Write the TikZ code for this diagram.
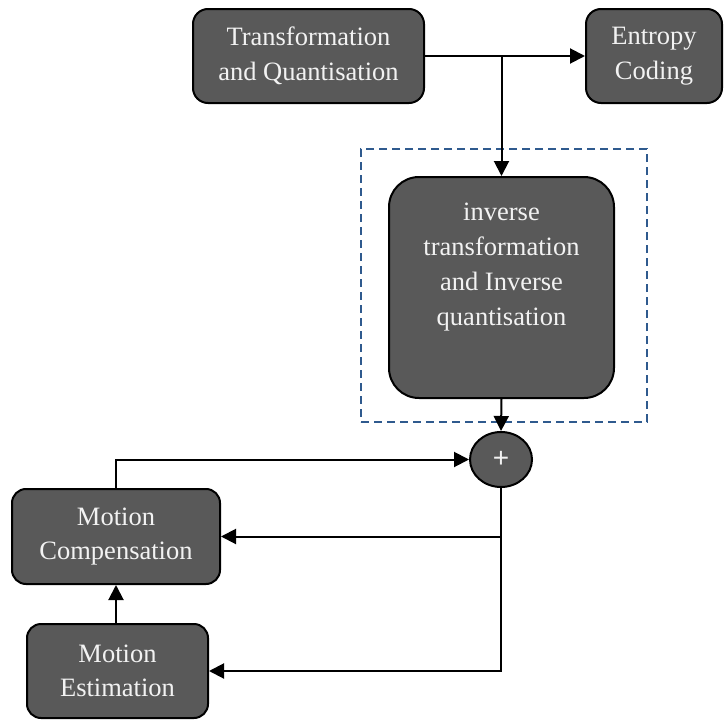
\documentclass[tikz,border=0pt]{standalone}
\usepackage{fontspec}
\setmainfont{Liberation Serif}
\newfontfamily\plusfont{Liberation Sans}
\usetikzlibrary{arrows.meta,shapes.geometric}

\definecolor{boxfill}{HTML}{595959}
\definecolor{boxtext}{HTML}{F2F2F2}
\definecolor{groupblue}{HTML}{2F5A8E}

\tikzset{
  stage/.style={draw=black, line width=2pt, fill=boxfill, text=boxtext,
    rounded corners=15pt, align=center, inner sep=0pt,
    font=\fontsize{26.5}{34.5}\selectfont},
  sumnode/.style={ellipse, draw=black, line width=2pt, fill=boxfill,
    text=boxtext, inner sep=0pt, minimum width=62pt, minimum height=55pt,
    font=\plusfont\fontsize{28}{28}\selectfont},
  groupbox/.style={draw=groupblue, line width=1.8pt,
    dash pattern=on 8pt off 5pt, inner sep=0pt},
  flow/.style={line width=2pt, -{Triangle[length=15pt,width=15pt]}}
}

\begin{document}
\begin{tikzpicture}[x=1pt, y=-1pt]
  \useasboundingbox (0,0) rectangle (724,720);

  % dashed frame round the inverse stage
  \node[groupbox, minimum width=286pt, minimum height=273pt] (grp) at (504,285.5) {};

  % processing stages
  \node[stage, minimum width=231pt, minimum height=94pt] (tq) at (308.5,56)
    {Transformation\\and Quantisation};
  \node[stage, minimum width=136pt, minimum height=94pt] (ec) at (654,56)
    {Entropy\\Coding};
  \node[stage, rounded corners=30pt, minimum width=225pt, minimum height=221pt]
    (inv) at (501.5,287.5) {};
  \node[text=boxtext, align=center, inner sep=0pt,
    font=\fontsize{26.5}{35}\selectfont] (invtext) at (501.5,267)
    {inverse\\transformation\\and Inverse\\quantisation};
  \node[sumnode] (sum) at (501,459.5) {\raisebox{-5pt}{+}};
  \node[stage, rounded corners=14pt, minimum width=208pt, minimum height=95pt]
    (mc) at (116,536.5) {Motion\\Compensation};
  \node[stage, rounded corners=14pt, minimum width=181pt, minimum height=94pt]
    (me) at (117.5,671) {Motion\\Estimation};

  % forward path
  \draw[flow] (tq.east) -- (ec.west);
  \draw[flow] (inv.north |- tq.east) -- (inv.north);
  \draw[flow] (inv.south) -- (sum.north);

  % prediction loop
  \draw[flow] (mc.north) |- (sum.west);
  \draw[flow] (sum.south) |- (me.east);
  \draw[flow] (sum.south |- mc.east) -- (mc.east);
  \draw[flow] (mc.south |- me.north) -- (mc.south);
\end{tikzpicture}
\end{document}
